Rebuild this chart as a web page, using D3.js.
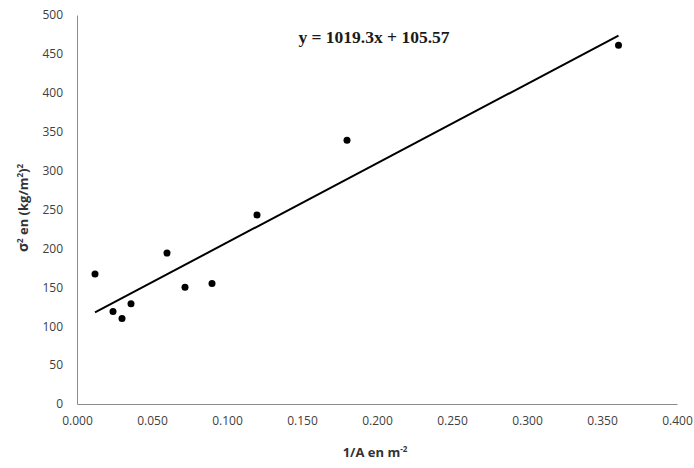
<!DOCTYPE html>
<html><head><meta charset="utf-8">
<script src="https://cdn.jsdelivr.net/npm/d3@7/dist/d3.min.js"></script>
<style>body{margin:0;background:#fff}</style>
</head><body>
<svg id="c" width="694" height="468"></svg>
<script>
const xValues = [0.012, 0.024, 0.030, 0.036, 0.060, 0.072, 0.090, 0.120, 0.180, 0.361];
const yValues = [167, 119, 110, 129, 194, 150, 155, 243, 339, 461];
const slope = 1019.3, intercept = 105.57;
const equationLabel = "y = 1019.3x + 105.57";
const xTicks = [0, 0.05, 0.1, 0.15, 0.2, 0.25, 0.3, 0.35, 0.4];
const yTicks = [0, 50, 100, 150, 200, 250, 300, 350, 400, 450, 500];

const svg = d3.select("#c");
const L = 77, R = 677, T = 15, B = 404;
const x = d3.scaleLinear().domain([0, 0.4]).range([L, R]);
const y = d3.scaleLinear().domain([0, 500]).range([B, T]);
const font = "'Open Sans', 'Liberation Sans', sans-serif";

const xa = svg.append("g").attr("transform", `translate(0,${B})`)
  .call(d3.axisBottom(x).tickValues(xTicks).tickFormat(d3.format(".3f")).tickSize(0).tickPadding(12));
const ya = svg.append("g").attr("transform", `translate(${L},0)`)
  .call(d3.axisLeft(y).tickValues(yTicks).tickSize(0).tickPadding(14));
[xa, ya].forEach(a => {
  a.select(".domain").attr("stroke", "#8c8c8c").attr("stroke-width", 1);
  a.selectAll("text").attr("font-family", font).attr("font-size", 12).attr("fill", "#404040");
});

const pts = xValues.map((v, i) => [v, yValues[i]]);
const [x0, x1] = d3.extent(xValues);
svg.append("line")
  .attr("x1", x(x0)).attr("y1", y(slope * x0 + intercept))
  .attr("x2", x(x1)).attr("y2", y(slope * x1 + intercept))
  .attr("stroke", "#000").attr("stroke-width", 2);

svg.append("g").selectAll("circle").data(pts).join("circle")
  .attr("cx", d => x(d[0])).attr("cy", d => y(d[1])).attr("r", 3.5).attr("fill", "#000");

svg.append("text").attr("x", 374).attr("y", 43).attr("text-anchor", "middle")
  .attr("font-family", "'Liberation Serif', 'DejaVu Serif', serif").attr("font-weight", "bold")
  .attr("font-size", 17.5).attr("fill", "#1a1a1a").text(equationLabel);

const xl = svg.append("text").attr("x", 375).attr("y", 457).attr("text-anchor", "middle")
  .attr("font-family", font).attr("font-weight", "bold").attr("font-size", 13).attr("fill", "#333");
xl.append("tspan").text("1/A en m");
xl.append("tspan").attr("dy", -5).attr("font-size", 8).text("-2");

const yl = svg.append("text").attr("transform", "translate(28,208) rotate(-90)").attr("text-anchor", "middle")
  .attr("font-family", font).attr("font-weight", "bold").attr("font-size", 13).attr("fill", "#333");
yl.append("tspan").attr("font-size", 14).text("σ");
yl.append("tspan").attr("dy", -5).attr("font-size", 8).text("2");
yl.append("tspan").attr("dy", 5).text(" en (kg/m");
yl.append("tspan").attr("dy", -5).attr("font-size", 8).text("2");
yl.append("tspan").attr("dy", 5).text(")");
yl.append("tspan").attr("dy", -5).attr("font-size", 8).text("2");
</script>
</body></html>
